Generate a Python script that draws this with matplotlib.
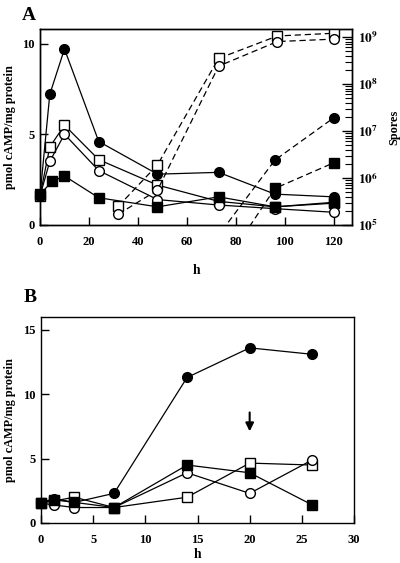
import matplotlib
matplotlib.use("Agg")
import matplotlib.pyplot as plt
import numpy as np

plt.rcParams['font.family'] = ['Liberation Serif', 'DejaVu Serif']
plt.rcParams['font.weight'] = 'bold'
plt.rcParams['mathtext.fontset'] = 'stix'

# ---- Panel A: cAMP (solid, left axis) ----
hA = [0, 4, 10, 24, 48, 73, 96, 120]
hA_fsq = [0, 5, 10, 24, 48, 73, 96, 120]
campA_fcirc = [1.6, 7.2, 9.7, 4.6, 2.8, 2.9, 1.7, 1.55]
campA_osq = [1.6, 4.3, 5.5, 3.6, 2.2, 1.3, 1.0, 1.2]
campA_ocirc = [1.6, 3.5, 5.0, 3.0, 1.4, 1.1, 0.9, 0.7]
campA_fsq = [1.7, 2.4, 2.7, 1.5, 1.0, 1.55, 1.0, 1.25]

# ---- Panel A: spores (dashed, right log axis) ----
h_sp_open = [32, 48, 73, 97, 120]
spores_osq = [2.5e5, 1.9e6, 3.5e8, 1.05e9, 1.2e9]
spores_ocirc = [1.7e5, 5.5e5, 2.4e8, 8.0e8, 9.0e8]
h_sp_filled = [72, 96, 120]
spores_fcirc = [5.2e4, 2.4e6, 1.9e7]
spores_fsq = [8.0e3, 6.0e5, 2.1e6]

# ---- Panel B ----
hB = [0, 1.2, 3.2, 7, 14, 20, 26]
campB_fcirc = [1.55, 1.9, 1.6, 2.3, 11.3, 13.6, 13.1]
campB_fsq = [1.55, 1.8, 1.6, 1.2, 4.5, 3.9, 1.4]
campB_ocirc = [1.55, 1.4, 1.2, 1.2, 3.9, 2.3, 4.9]
campB_osq = [1.55, 1.7, 2.0, 1.2, 2.0, 4.65, 4.5]
arrow_h = 20
arrow_from, arrow_to = 8.8, 6.9

fig = plt.figure(figsize=(4.0, 5.63), dpi=100)

ms = 7
lw = 0.9
fs = 9
lfs = 8.8

def style(kind):
    if kind == 'fc':
        return dict(marker='o', mfc='black', mec='black')
    if kind == 'oc':
        return dict(marker='o', mfc='white', mec='black')
    if kind == 'fs':
        return dict(marker='s', mfc='black', mec='black')
    return dict(marker='s', mfc='white', mec='black')

axA = fig.add_axes([0.100, 0.6004, 0.780, 0.3481])
axA.plot(hA, campA_osq, color='black', lw=lw, ms=ms, clip_on=False, **style('os'))
axA.plot(hA, campA_ocirc, color='black', lw=lw, ms=ms, clip_on=False, **style('oc'))
axA.plot(hA_fsq, campA_fsq, color='black', lw=lw, ms=ms, clip_on=False, **style('fs'))
axA.plot(hA, campA_fcirc, color='black', lw=lw, ms=ms, clip_on=False, **style('fc'))
axA.set_xlim(0, 127.5)
axA.set_ylim(0, 10.8)
axA.set_xticks([0, 20, 40, 60, 80, 100, 120])
axA.set_yticks([0, 5, 10])
axA.tick_params(direction='in', length=6, width=1, labelsize=fs, top=False)
axA.tick_params(axis='x', pad=8)
axA.tick_params(axis='y', pad=4)
axA.set_xlabel('h', fontsize=lfs + 1, fontweight='bold')
axA.xaxis.set_label_coords(0.5, -0.2)
axA.set_ylabel('pmol cAMP/mg protein', fontsize=lfs, fontweight='bold')
axA.yaxis.set_label_coords(-0.077, 0.5)

axR = axA.twinx()
axR.set_yscale('log')
axR.plot(h_sp_open, spores_osq, color='black', lw=lw, ms=ms, ls=(0, (5, 3)), **style('os'))
axR.plot(h_sp_open, spores_ocirc, color='black', lw=lw, ms=ms, ls=(0, (5, 3)), **style('oc'))
axR.plot(h_sp_filled, spores_fcirc, color='black', lw=lw, ms=ms, ls=(0, (5, 3)), **style('fc'))
axR.plot(h_sp_filled, spores_fsq, color='black', lw=lw, ms=ms, ls=(0, (5, 3)), **style('fs'))
axR.set_ylim(1e5, 10 ** 9.17)
axR.set_yticks([1e5, 1e6, 1e7, 1e8, 1e9])
axR.set_yticklabels([r'$\mathbf{10^{%d}}$' % k for k in [5, 6, 7, 8, 9]])
axR.tick_params(which='major', direction='in', length=7, width=1, labelsize=fs + 0.5, pad=4)
axR.tick_params(which='minor', direction='in', length=5, width=0.8)
axR.set_ylabel('Spores', fontsize=lfs, fontweight='bold')
axR.yaxis.set_label_coords(1.115, 0.5)
for sp in list(axA.spines.values()) + list(axR.spines.values()):
    sp.set_linewidth(1)
fig.text(0.055, 0.972, 'A', fontsize=14, fontweight='bold', ha='left', va='center')

axB = fig.add_axes([0.1025, 0.0711, 0.7825, 0.3659])
axB.plot(hB, campB_osq, color='black', lw=lw, ms=ms, clip_on=False, **style('os'))
axB.plot(hB, campB_ocirc, color='black', lw=lw, ms=ms, clip_on=False, **style('oc'))
axB.plot(hB, campB_fsq, color='black', lw=lw, ms=ms, clip_on=False, **style('fs'))
axB.plot(hB, campB_fcirc, color='black', lw=lw, ms=ms, clip_on=False, **style('fc'))
axB.set_xlim(0, 30)
axB.set_ylim(0, 16)
axB.set_xticks([0, 5, 10, 15, 20, 25, 30])
axB.set_yticks([0, 5, 10, 15])
axB.tick_params(direction='in', length=6, width=1, labelsize=fs)
axB.tick_params(axis='x', pad=8)
axB.tick_params(axis='y', pad=4)
axB.set_xlabel('h', fontsize=lfs + 1, fontweight='bold')
axB.xaxis.set_label_coords(0.5, -0.12)
axB.set_ylabel('pmol cAMP/mg protein', fontsize=lfs, fontweight='bold')
axB.yaxis.set_label_coords(-0.08, 0.5)
axB.annotate('', xy=(arrow_h, arrow_to), xytext=(arrow_h, arrow_from),
             arrowprops=dict(arrowstyle='-|>', color='black', lw=1.5, mutation_scale=12))
for sp in axB.spines.values():
    sp.set_linewidth(1)
fig.text(0.06, 0.472, 'B', fontsize=14, fontweight='bold', ha='left', va='center')

fig.savefig('out.png', dpi=100)
